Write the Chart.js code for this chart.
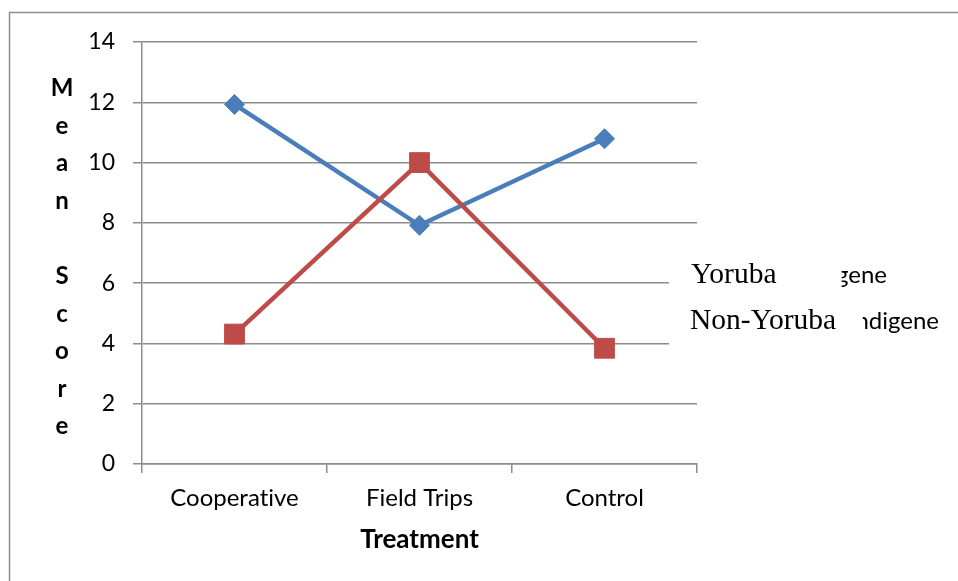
<!DOCTYPE html>
<html>
<head>
<meta charset="utf-8">
<script src="https://cdn.jsdelivr.net/npm/chart.js@4/dist/chart.umd.min.js"></script>
<style>
  html, body { margin: 0; padding: 0; background: #fff; }
  #wrap { width: 958px; height: 581px; position: relative; }
</style>
</head>
<body>
<div id="wrap"><canvas id="chart"></canvas></div>
<script>
// Treatment groups on the x axis
const categories = ['Cooperative', 'Field Trips', 'Control'];
// Mean scores per group
const yorubaIndigene = [11.93, 7.92, 10.79];
const nonYorubaIndigene = [4.31, 10.0, 3.84];
// Series names and the text-box captions placed over the legend
const seriesNames = ['Yoruba Indigene', 'Non-Yoruba Indigene'];
const captionLabels = ['Yoruba', 'Non-Yoruba'];
// Axis titles and value ticks
const yTitle = 'Mean Score';
const xTitle = 'Treatment';
const yTicks = [0, 2, 4, 6, 8, 10, 12, 14];

const gridColor = '#8c8c8c';
const sansFont = 'Lato, "Noto Sans", sans-serif';
const serifFont = '"Liberation Serif", "DejaVu Serif", serif';

// Outer frame of the chart object; also turns off ligatures for all text
const framePlugin = {
  id: 'frame',
  beforeDraw(chart) {
    const ctx = chart.ctx;
    ctx.textRendering = 'optimizeSpeed';
    ctx.save();
    ctx.fillStyle = '#fff';
    ctx.fillRect(0, 0, chart.width, chart.height);
    ctx.strokeStyle = '#8e8e8e';
    ctx.lineWidth = 1.5;
    ctx.strokeRect(9.5, 12.5, chart.width + 20, chart.height + 20);
    ctx.restore();
  }
};

// Stacked vertical y-axis title, legend and the caption boxes laid over it
const overlayPlugin = {
  id: 'overlay',
  afterDraw(chart) {
    const ctx = chart.ctx;
    ctx.save();

    // vertical title, one character per line
    ctx.fillStyle = '#000';
    ctx.font = 'bold 24px ' + sansFont;
    ctx.textAlign = 'center';
    ctx.textBaseline = 'alphabetic';
    const chars = yTitle.split('');
    chars.forEach((c, i) => {
      if (c !== ' ') ctx.fillText(c, 62, 96 + i * 37.6);
    });

    // legend box
    ctx.fillStyle = '#fff';
    ctx.fillRect(669, 250, 300, 125);

    const names = chart.data.datasets.map(d => d.label);
    ctx.font = '24px ' + sansFont;
    ctx.textAlign = 'left';
    ctx.fillStyle = '#000';
    const rightEdges = [887, 939];
    const baselines = [283, 329];
    const cutWords = ['gene', 'ndigene'];
    const cutFrac = [0.45, 0.55];
    const cuts = [];
    names.forEach((name, i) => {
      const w = ctx.measureText(name).width;
      const x0 = rightEdges[i] - w;
      ctx.fillText(name, x0, baselines[i]);
      const tailW = ctx.measureText(cutWords[i]).width;
      const firstW = ctx.measureText(cutWords[i][0]).width;
      cuts.push(rightEdges[i] - tailW + firstW * cutFrac[i]);
    });

    // white caption boxes
    ctx.fillStyle = '#fff';
    ctx.fillRect(669, 255, cuts[0] - 669, 41);
    ctx.fillRect(669, 298, cuts[1] - 669, 48);

    ctx.fillStyle = '#000';
    ctx.font = '29.5px ' + serifFont;
    ctx.fillText(captionLabels[0], 691, 283);
    ctx.fillText(captionLabels[1], 690, 329);

    ctx.restore();
  }
};

new Chart(document.getElementById('chart'), {
  type: 'line',
  data: {
    labels: categories,
    datasets: [
      {
        label: seriesNames[0],
        data: yorubaIndigene,
        borderColor: '#4a7ebb',
        backgroundColor: '#4a7ebb',
        borderWidth: 4.5,
        pointStyle: 'rectRot',
        pointRadius: 10,
        pointBorderWidth: 1,
        pointBackgroundColor: '#4a7ebb',
        pointBorderColor: '#4a7ebb',
        tension: 0,
        order: 2
      },
      {
        label: seriesNames[1],
        data: nonYorubaIndigene,
        borderColor: '#be4b48',
        backgroundColor: '#be4b48',
        borderWidth: 4.5,
        pointStyle: 'rect',
        pointRadius: 14,
        pointBorderWidth: 1,
        pointBackgroundColor: '#be4b48',
        pointBorderColor: '#be4b48',
        tension: 0,
        order: 1
      }
    ]
  },
  options: {
    responsive: true,
    maintainAspectRatio: false,
    animation: false,
    layout: { padding: { left: 0, top: 42, right: 261, bottom: 0 } },
    plugins: {
      legend: { display: false },
      tooltip: { enabled: false }
    },
    scales: {
      x: {
        type: 'category',
        offset: true,
        grid: {
          offset: true,
          drawOnChartArea: false,
          drawTicks: true,
          tickLength: 9,
          color: gridColor,
          lineWidth: 1.5
        },
        border: { display: true, color: gridColor, width: 1.5 },
        ticks: {
          color: '#000',
          font: { family: sansFont, size: 24 },
          padding: 11,
          maxRotation: 0,
          autoSkip: false
        },
        title: {
          display: true,
          text: xTitle,
          color: '#000',
          font: { family: sansFont, size: 26, weight: 'bold' },
          padding: { top: 0, bottom: 26 }
        },
        afterFit(scale) { scale.height = 117; }
      },
      y: {
        min: yTicks[0],
        max: yTicks[yTicks.length - 1],
        afterBuildTicks(scale) { scale.ticks = yTicks.map(v => ({ value: v })); },
        grid: {
          color: gridColor,
          lineWidth: 1.5,
          tickLength: 9,
          drawTicks: true
        },
        border: { display: true, color: gridColor, width: 1.5 },
        ticks: {
          color: '#000',
          font: { family: sansFont, size: 23 },
          padding: 18
        },
        afterFit(scale) { scale.width = 142; }
      }
    }
  },
  plugins: [framePlugin, overlayPlugin]
});
</script>
</body>
</html>
